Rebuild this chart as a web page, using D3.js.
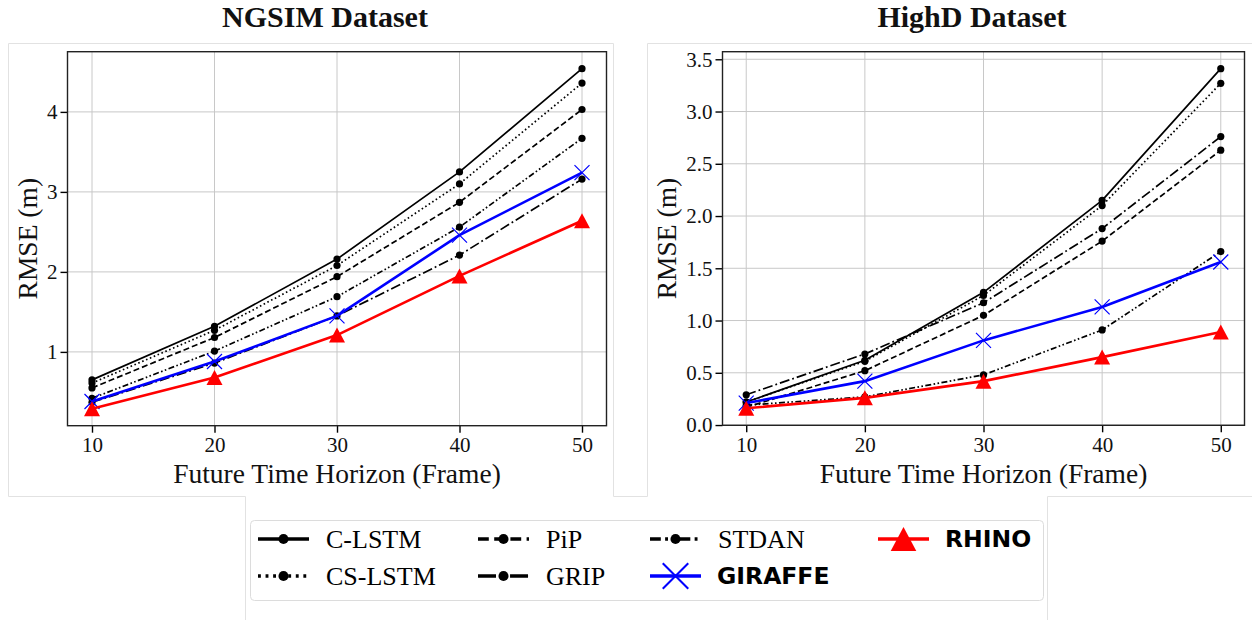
<!DOCTYPE html>
<html><head><meta charset="utf-8">
<script src="https://cdn.jsdelivr.net/npm/d3@7"></script>
<style>
html,body{margin:0;padding:0;background:#fff;}
svg{display:block;}
</style></head>
<body>
<svg id="chart" width="1252" height="620"></svg>
<script>
// ---------- DATA ----------
const horizons = [10, 20, 30, 40, 50];
const methods = ["C-LSTM", "CS-LSTM", "PiP", "GRIP", "STDAN", "GIRAFFE", "RHINO"];
const ngsimCLSTM  = [0.65, 1.32, 2.16, 3.25, 4.54];
const ngsimCSLSTM = [0.61, 1.27, 2.08, 3.10, 4.36];
const ngsimPiP    = [0.55, 1.18, 1.94, 2.87, 4.03];
const ngsimGRIP   = [0.37, 0.86, 1.45, 2.21, 3.16];
const ngsimSTDAN  = [0.42, 1.01, 1.69, 2.56, 3.67];
const ngsimGIRAFFE= [0.38, 0.88, 1.45, 2.46, 3.24];
const ngsimRHINO  = [0.29, 0.68, 1.21, 1.95, 2.64];
const highdCLSTM  = [0.22, 0.62, 1.27, 2.15, 3.41];
const highdCSLSTM = [0.22, 0.61, 1.24, 2.10, 3.27];
const highdPiP    = [0.17, 0.52, 1.05, 1.76, 2.63];
const highdGRIP   = [0.29, 0.68, 1.17, 1.88, 2.76];
const highdSTDAN  = [0.19, 0.27, 0.48, 0.91, 1.66];
const highdGIRAFFE= [0.21, 0.42, 0.81, 1.13, 1.56];
const highdRHINO  = [0.16, 0.26, 0.42, 0.65, 0.89];
const ngsimYTicks = [1, 2, 3, 4];
const highdYTicks = [0.0, 0.5, 1.0, 1.5, 2.0, 2.5, 3.0, 3.5];
const xTicks = [10, 20, 30, 40, 50];

// ---------- STYLES ----------
const SERIF = "'Liberation Serif','Times New Roman',serif";
const SANSB = "'DejaVu Sans',sans-serif";
const styles = {
  "C-LSTM":  {color:"#000", dash:null, width:1.7, marker:"dot"},
  "CS-LSTM": {color:"#000", dash:"1.6,2.6", width:1.7, marker:"dot"},
  "PiP":     {color:"#000", dash:"6,3", width:1.7, marker:"dot"},
  "GRIP":    {color:"#000", dash:"10,3,1.8,3", width:1.7, marker:"dot"},
  "STDAN":   {color:"#000", dash:"6,2.4,1.6,2.4,1.6,2.4", width:1.7, marker:"dot"},
  "GIRAFFE": {color:"#0000ff", dash:null, width:2.6, marker:"x"},
  "RHINO":   {color:"#ff0000", dash:null, width:2.6, marker:"tri"}
};

const svg = d3.select("#chart");

// panel borders (light gray frames of the composite)
const border = "#e2e2e2";
svg.append("path").attr("fill","none").attr("stroke",border).attr("stroke-width",1)
  .attr("d","M8.5,43.5 H613.5 V496.5 H647.5 V43.5 H1252 M8.5,43.5 V496.5 H245.5 V620 M1047.5,620 V496.5 H1252");

function drawPanel(opts){
  const {x0,x1,y0,y1,series,yTicks,fmt,title,titleX,ylabelX} = opts;
  const all = series.flat();
  const lo = d3.min(all), hi = d3.max(all), m = 0.05*(hi-lo);
  const x = d3.scaleLinear().domain([8,52]).range([x0,x1]);
  const y = d3.scaleLinear().domain([lo-m, hi+m]).range([y1,y0]);
  const g = svg.append("g");

  // grid
  g.append("g").selectAll("line").data(xTicks).join("line")
    .attr("x1",d=>x(d)).attr("x2",d=>x(d)).attr("y1",y0).attr("y2",y1)
    .attr("stroke","#c8c8c8").attr("stroke-width",1);
  g.append("g").selectAll("line").data(yTicks).join("line")
    .attr("x1",x0).attr("x2",x1).attr("y1",d=>y(d)).attr("y2",d=>y(d))
    .attr("stroke","#c8c8c8").attr("stroke-width",1);

  // axes
  const ax = g.append("g").attr("transform",`translate(0,${y1})`)
    .call(d3.axisBottom(x).tickValues(xTicks).tickSize(7).tickPadding(3).tickFormat(d3.format("d")));
  const ay = g.append("g").attr("transform",`translate(${x0},0)`)
    .call(d3.axisLeft(y).tickValues(yTicks).tickSize(7).tickPadding(3).tickFormat(fmt));
  [ax,ay].forEach(a=>{
    a.select(".domain").remove();
    a.selectAll(".tick line").attr("stroke","#000").attr("stroke-width",1.4);
    a.selectAll(".tick text").attr("font-family",SERIF).attr("font-size",21).attr("fill","#111");
  });
  ax.selectAll(".tick text").attr("dy","0.8em");
  // frame
  g.append("rect").attr("x",x0).attr("y",y0).attr("width",x1-x0).attr("height",y1-y0)
    .attr("fill","none").attr("stroke","#222").attr("stroke-width",1.4);

  // lines
  const line = d3.line().x((d,i)=>x(horizons[i])).y(d=>y(d));
  series.forEach((vals,k)=>{
    const st = styles[methods[k]];
    g.append("path").datum(vals).attr("d",line).attr("fill","none")
      .attr("stroke",st.color).attr("stroke-width",st.width)
      .attr("stroke-dasharray",st.dash).attr("stroke-linejoin","round");
    vals.forEach((v,i)=>drawMarker(g, st.marker, x(horizons[i]), y(v), st.color, 1));
  });

  // titles & labels
  svg.append("text").attr("x",titleX).attr("y",27).attr("text-anchor","middle")
    .attr("font-family",SERIF).attr("font-weight","bold").attr("font-size",30).attr("fill","#111").text(title);
  svg.append("text").attr("x",(x0+x1)/2).attr("y",483).attr("text-anchor","middle")
    .attr("font-family",SERIF).attr("font-size",27.5).attr("fill","#111").text("Future Time Horizon (Frame)");
  svg.append("text").attr("transform",`translate(${ylabelX},${(y0+y1)/2}) rotate(-90)`)
    .attr("text-anchor","middle").attr("font-family",SERIF).attr("font-size",27.5).attr("fill","#111").text("RMSE (m)");
}

function drawMarker(g, type, cx, cy, color, s){
  if(type==="dot"){
    g.append("circle").attr("cx",cx).attr("cy",cy).attr("r",3.6*s).attr("fill",color);
  } else if(type==="x"){
    const r = 7.5*s;
    g.append("path").attr("d",`M${cx-r},${cy-r}L${cx+r},${cy+r}M${cx-r},${cy+r}L${cx+r},${cy-r}`)
      .attr("stroke",color).attr("stroke-width",1.2*s).attr("fill","none");
  } else if(type==="tri"){
    const w = 8*s, h = 7.5*s;
    g.append("path").attr("d",`M${cx},${cy-h}L${cx+w},${cy+h}L${cx-w},${cy+h}Z`).attr("fill",color);
  }
}

drawPanel({x0:67.5,x1:606.5,y0:51.7,y1:425.7,
  series:[ngsimCLSTM,ngsimCSLSTM,ngsimPiP,ngsimGRIP,ngsimSTDAN,ngsimGIRAFFE,ngsimRHINO],
  yTicks:ngsimYTicks, fmt:d3.format("d"), title:"NGSIM Dataset", titleX:325, ylabelX:37});
drawPanel({x0:722.5,x1:1244.5,y0:51.7,y1:425.3,
  series:[highdCLSTM,highdCSLSTM,highdPiP,highdGRIP,highdSTDAN,highdGIRAFFE,highdRHINO],
  yTicks:highdYTicks, fmt:d3.format(".1f"), title:"HighD Dataset", titleX:972, ylabelX:676});

// ---------- LEGEND ----------
const lg = svg.append("g");
lg.append("rect").attr("x",250.5).attr("y",520.5).attr("width",793).attr("height",80).attr("rx",4)
  .attr("fill","#fff").attr("stroke","#dcdcdc").attr("stroke-width",1);
const legendPos = {
  "C-LSTM":[258,539], "CS-LSTM":[258,576], "PiP":[478,539], "GRIP":[478,576],
  "STDAN":[650,539], "GIRAFFE":[650,576], "RHINO":[878,539]
};
methods.forEach(name=>{
  const [lx,ly] = legendPos[name];
  const st = styles[name];
  const lw = 3.4;
  let dash = st.dash;
  if(dash) dash = dash.split(",").map(v=>+v*1.8).join(",");
  lg.append("line").attr("x1",lx).attr("x2",lx+51).attr("y1",ly).attr("y2",ly)
    .attr("stroke",st.color).attr("stroke-width",lw).attr("stroke-dasharray",dash);
  if(st.marker==="dot") drawMarker(lg,"dot",lx+25.5,ly,st.color,1.4);
  else if(st.marker==="x") drawMarker(lg,"x",lx+25.5,ly,st.color,1.7);
  else drawMarker(lg,"tri",lx+25.5,ly,st.color,1.6);
  const bold = (name==="GIRAFFE"||name==="RHINO");
  lg.append("text").attr("x",lx+(bold?67:68)).attr("y",ly).attr("dy","0.35em")
    .attr("font-family",bold?SANSB:SERIF).attr("font-weight",bold?"bold":"normal")
    .attr("font-size",bold?23.5:26).attr("fill","#000").text(name);
});
</script>
</body></html>
